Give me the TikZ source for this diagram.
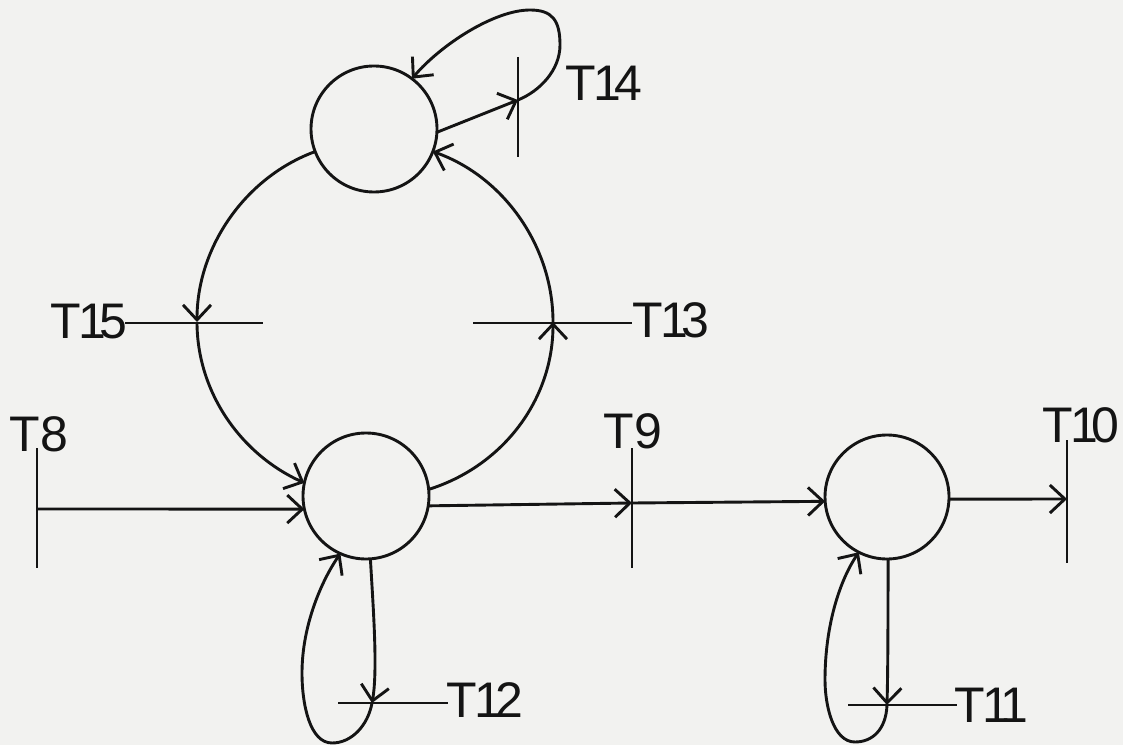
\documentclass[tikz,border=0pt]{standalone}
\usepackage{fontspec}
\setmainfont{Liberation Sans}
\usetikzlibrary{arrows.meta}
\definecolor{paper}{RGB}{242,242,240}
\definecolor{ink}{RGB}{20,20,20}
\newcommand\one{\kern-0.06em 1\kern-0.13em}
\begin{document}
\begin{tikzpicture}[x=1pt,y=1pt,
  line width=2.9pt, draw=ink,
  >={Straight Barb[length=15pt,width=28pt]},
  place/.style={circle,draw=ink,line width=2.9pt,minimum size=126pt,inner sep=0pt,outer sep=0pt},
  lbl/.style={inner sep=0pt,text=ink,font=\fontsize{50}{50}\selectfont}]
\fill[paper] (0,0) rectangle (1123,745);
\useasboundingbox (0,0) rectangle (1123,745);

% places
\node[place] (ptop) at (374,616) {};
\node[place] (pa) at (366,249) {};
\node[place,minimum size=124pt] (pb) at (887,248) {};

% transition bars and points
\coordinate (t8m) at (37,236);
\coordinate (t9m) at (632,242);
\coordinate (t10m) at (1067,246);
\coordinate (c15) at (197,423);
\coordinate (c13) at (553,423);
\coordinate (c14) at (518,645);
\coordinate (c12) at (372,42);
\coordinate (c11) at (887,40);

\draw (37,297) -- (37,177);
\draw (632,297) -- (632,177);
\draw (1067,305) -- (1067,182);
\draw (518,688) -- (518,588);
\draw (125,422) -- (263,422);
\draw (473,422) -- (632,422);
\draw (338,42) -- (448,42);
\draw (848,40) -- (957,40);

% labels
\node[lbl] (l8) at (39,311) {T8};
\node[lbl] (l9) at (633,314) {T9};
\node[lbl] (l10) at (1081,320) {T\one 0};
\node[lbl] (l15) at (89,423) {T\one 5};
\node[lbl] (l13) at (671,425) {T\one 3};
\node[lbl] (l14) at (604,662) {T\one 4};
\node[lbl] (l12) at (485,45) {T\one 2};
\node[lbl] (l11) at (988,40) {T\one\one};

% main line
\draw[->] (t8m) -- (pa.192);
\draw[->] (pa.351) -- (t9m);
\draw[->] (t9m) -- (pb.184);
\draw[->] (pb.358) -- (t10m);

% big loop
\draw[->] (ptop.201) .. controls +(200.1:74.7) and +(90:74.7) .. (c15);
\draw[->] (c15) .. controls +(270:70) and +(155.7:70) .. (pa.168);
\draw[->] (pa.6) .. controls +(17.4:77.8) and +(270:77.8) .. (c13);
\draw[->] (c13) .. controls +(90:75.4) and +(340.5:75.4) .. (ptop.339);

% T14 self loop
\draw[->] (ptop.357) -- (c14);
\draw[->] (c14) .. controls +(22,9) and +(0,-25) .. (560,700)
  .. controls +(0,25) and +(22,0) .. (530,735)
  .. controls +(-35,0) and +(30,35) .. (ptop.53);

% T12 self loop
\draw[->] (pa.274) .. controls (373,140) and (378,75) .. (c12);
\draw[->] (c12) .. controls (368,20) and (352,2) .. (332,2)
  .. controls (310,2) and (302,40) .. (302,72)
  .. controls (302,120) and (322,165) .. (pa.246);

% T11 self loop
\draw[->] (pb.271) .. controls (888,130) and (888,80) .. (c11);
\draw[->] (c11) .. controls (886,15) and (872,3) .. (855,3)
  .. controls (833,3) and (825,40) .. (825,65)
  .. controls (825,120) and (840,165) .. (pb.243);
\end{tikzpicture}
\end{document}
